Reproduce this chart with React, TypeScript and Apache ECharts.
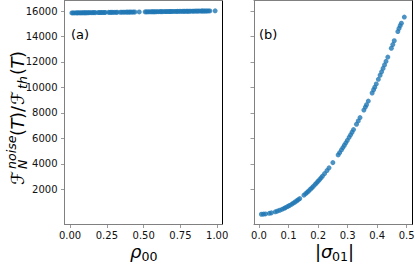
import React, { useEffect, useRef } from 'react';
import * as echarts from 'echarts';

// Panel (a): rho_00 vs ratio
const rhoX = [0.012, 0.02, 0.03, 0.041, 0.05, 0.058, 0.067, 0.075, 0.083, 0.092, 0.1, 0.108, 0.118, 0.127, 0.135, 0.145, 0.155, 0.163, 0.172, 0.19, 0.2, 0.21, 0.22, 0.232, 0.24, 0.262, 0.272, 0.281, 0.29, 0.3, 0.312, 0.32, 0.342, 0.352, 0.362, 0.372, 0.383, 0.392, 0.402, 0.41, 0.42, 0.43, 0.44, 0.47, 0.51, 0.52, 0.53, 0.54, 0.552, 0.561, 0.57, 0.58, 0.59, 0.6, 0.612, 0.62, 0.63, 0.642, 0.652, 0.66, 0.672, 0.68, 0.69, 0.7, 0.712, 0.722, 0.73, 0.742, 0.752, 0.763, 0.772, 0.78, 0.792, 0.8, 0.81, 0.82, 0.832, 0.84, 0.85, 0.861, 0.87, 0.88, 0.893, 0.9, 0.91, 0.92, 0.93, 0.94, 0.95, 0.986];
const rhoY = [15852, 15853, 15855, 15857, 15858, 15860, 15861, 15863, 15864, 15866, 15867, 15868, 15870, 15872, 15873, 15875, 15876, 15878, 15879, 15882, 15884, 15886, 15887, 15889, 15891, 15895, 15896, 15898, 15899, 15901, 15903, 15904, 15908, 15910, 15912, 15913, 15915, 15917, 15918, 15920, 15921, 15923, 15925, 15930, 15937, 15938, 15940, 15942, 15944, 15945, 15947, 15949, 15950, 15952, 15954, 15955, 15957, 15959, 15961, 15962, 15964, 15966, 15967, 15969, 15971, 15973, 15974, 15976, 15978, 15980, 15981, 15983, 15985, 15986, 15988, 15989, 15991, 15993, 15994, 15996, 15998, 15999, 16002, 16003, 16005, 16006, 16008, 16010, 16011, 16018];

// Panel (b): |sigma_01| vs ratio
const sigX = [0.008, 0.015, 0.022, 0.035, 0.042, 0.055, 0.062, 0.07, 0.078, 0.085, 0.09, 0.097, 0.103, 0.11, 0.116, 0.122, 0.128, 0.133, 0.138, 0.152, 0.158, 0.163, 0.168, 0.174, 0.179, 0.184, 0.19, 0.195, 0.2, 0.205, 0.21, 0.215, 0.222, 0.23, 0.237, 0.25, 0.268, 0.273, 0.279, 0.284, 0.289, 0.294, 0.299, 0.305, 0.31, 0.315, 0.32, 0.33, 0.336, 0.342, 0.355, 0.36, 0.364, 0.37, 0.383, 0.388, 0.392, 0.397, 0.404, 0.41, 0.415, 0.42, 0.425, 0.43, 0.436, 0.448, 0.453, 0.458, 0.47, 0.474, 0.478, 0.482, 0.492];
const sigY = [34, 45, 61, 110, 145, 227, 280, 349, 425, 500, 557, 642, 720, 817, 905, 997, 1095, 1180, 1268, 1532, 1653, 1757, 1865, 1998, 2113, 2231, 2377, 2502, 2630, 2762, 2897, 3035, 3233, 3469, 3681, 4093, 4699, 4874, 5090, 5273, 5459, 5648, 5841, 6077, 6277, 6480, 6686, 7109, 7368, 7633, 8222, 8454, 8642, 8929, 9565, 9815, 10018, 10275, 10639, 10957, 11225, 11496, 11771, 12049, 12386, 13076, 13369, 13665, 14389, 14634, 14850, 15050, 15530];

const leftTicks = [0, 0.25, 0.5, 0.75, 1];
const rightTicks = [0, 0.1, 0.2, 0.3, 0.4, 0.5];
const yTicks = [2000, 4000, 6000, 8000, 10000, 12000, 14000, 16000];

const GRAY = '#808080';
const FONT = 'DejaVu Sans';
const BLUE = '#1f77b4';

export default function App() {
  const ref = useRef<HTMLDivElement>(null);
  useEffect(() => {
    document.body.style.margin = '0';
    const chart = echarts.init(ref.current!, null, { renderer: 'svg' });

    const xMain = (grid: number, min: number, max: number, ticks: number[], dec: number) => ({
      type: 'value', gridIndex: grid, min, max, position: 'bottom',
      axisLine: { show: true, onZero: false, lineStyle: { color: GRAY, width: 1 } },
      axisTick: { show: true, length: 3.5, lineStyle: { color: GRAY, width: 0.8 }, customValues: ticks },
      axisLabel: { show: true, customValues: ticks, formatter: (v: number) => v.toFixed(dec), fontSize: 10, fontFamily: FONT, color: '#111', margin: 6 },
      splitLine: { show: false },
    });
    const xTop = (grid: number, min: number, max: number) => ({
      type: 'value', gridIndex: grid, min, max, position: 'top',
      axisLine: { show: true, onZero: false, lineStyle: { color: GRAY, width: 1 } },
      axisTick: { show: false }, axisLabel: { show: false }, splitLine: { show: false },
    });
    const yMain = (grid: number, labels: boolean) => ({
      type: 'value', gridIndex: grid, min: -770, max: 16830, position: 'left',
      axisLine: { show: true, onZero: false, lineStyle: { color: GRAY, width: 1 } },
      axisTick: { show: true, length: 3.5, lineStyle: { color: GRAY, width: 0.8 }, customValues: yTicks },
      axisLabel: { show: labels, customValues: yTicks, formatter: (v: number) => String(Math.round(v)), fontSize: 10, fontFamily: FONT, color: '#111', margin: 7 },
      splitLine: { show: false },
    });
    const yRight = (grid: number) => ({
      type: 'value', gridIndex: grid, min: -770, max: 16830, position: 'right',
      axisLine: { show: true, onZero: false, lineStyle: { color: '#000', width: 1 } },
      axisTick: { show: false }, axisLabel: { show: false }, splitLine: { show: false },
    });

    const txt = (text: string, x: number, y: number, fontSize: number, italic = false, align = 'left') => ({
      type: 'text', x, y,
      style: {
        text, fontSize, fontFamily: FONT, fontStyle: italic ? 'italic' : 'normal', fill: '#000',
        align, textAlign: align, verticalAlign: 'middle', textVerticalAlign: 'middle',
      },
    });

    const M = 18; // main math size
    const S = 12.6; // sub/superscript size

    const option: any = {
      animation: false,
      grid: [
        { left: 64.5, top: 0.5, width: 158, height: 224, outerBoundsMode: 'none', containLabel: false },
        { left: 254, top: 0.5, width: 158, height: 224, outerBoundsMode: 'none', containLabel: false },
      ],
      xAxis: [
        xMain(0, -0.038, 1.036, leftTicks, 2),
        xMain(1, -0.017, 0.518, rightTicks, 1),
        xTop(0, -0.038, 1.036),
        xTop(1, -0.017, 0.518),
      ],
      yAxis: [yMain(0, true), yMain(1, false), yRight(0), yRight(1)],
      series: [
        {
          type: 'scatter', xAxisIndex: 0, yAxisIndex: 0, symbolSize: 5,
          itemStyle: { color: BLUE }, data: rhoX.map((x, i) => [x, rhoY[i]]),
        },
        {
          type: 'scatter', xAxisIndex: 1, yAxisIndex: 1, symbolSize: 5,
          itemStyle: { color: BLUE }, data: sigX.map((x, i) => [x, sigY[i]]),
        },
      ],
      graphic: [
        txt('(a)', 71, 34, 13),
        txt('(b)', 259, 34, 13),
        // x-axis title (a): rho_00
        txt('ρ', 130, 251, M, true),
        txt('00', 141.5, 256, S),
        // x-axis title (b): |sigma_01|
        txt('|', 315, 251, M),
        txt('σ', 321, 251, M, true),
        txt('01', 332, 256, S),
        txt('|', 348, 251, M),
        // y-axis title, rotated
        {
          type: 'group', x: 17, y: 185, rotation: Math.PI / 2,
          children: [
            txt('ℱ', 0, 0, M, true),
            txt('noise', 16, -6, S, true),
            txt('N', 16, 5, S, true),
            txt('(', 49, 0, M),
            txt('T', 55.5, 0, M, true),
            txt(')', 66, 0, M),
            txt('/', 73, 0, M),
            txt('ℱ', 80, 0, M, true),
            txt('th', 96, 5, S, true),
            txt('(', 110, 0, M),
            txt('T', 116.5, 0, M, true),
            txt(')', 127, 0, M),
          ],
        },
      ],
    };
    chart.setOption(option);
    return () => chart.dispose();
  }, []);
  return <div ref={ref} style={{ width: 415, height: 264, position: 'absolute', left: 0, top: 0 }} />;
}
